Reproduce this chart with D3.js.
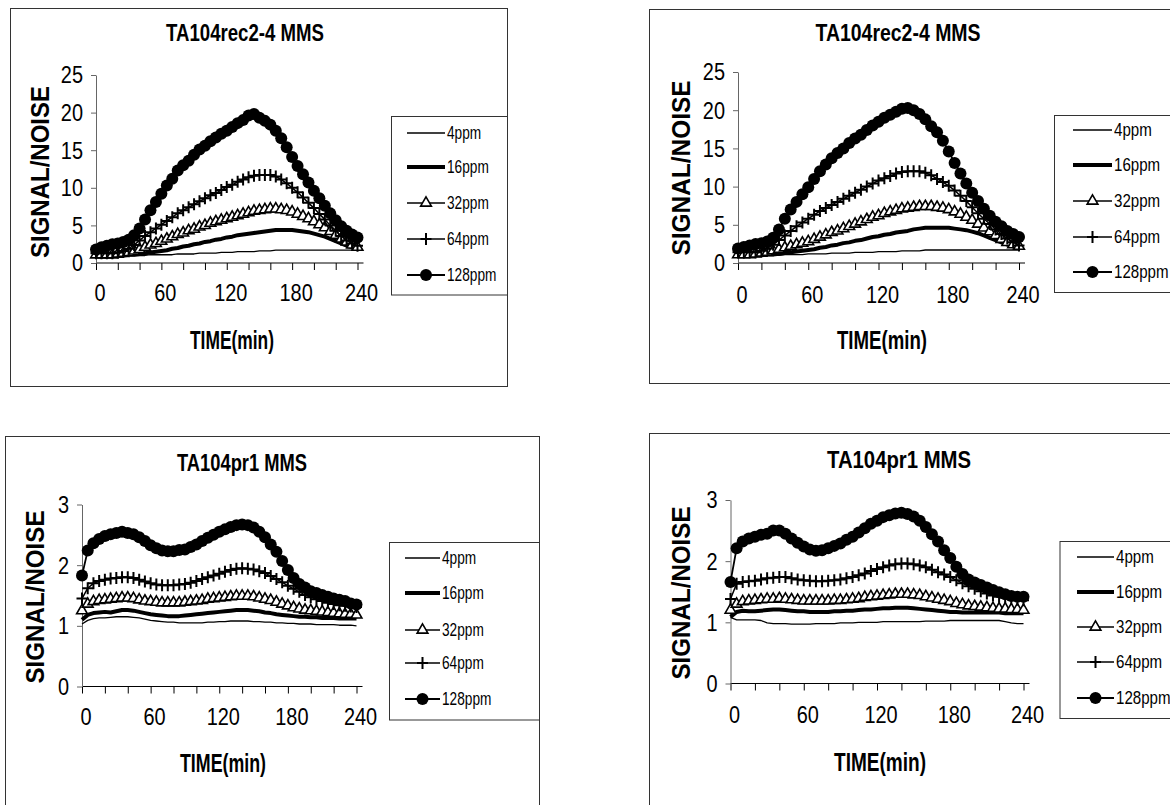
<!DOCTYPE html>
<html>
<head>
<meta charset="utf-8">
<title>TA104 MMS signal/noise</title>
<script src="https://d3js.org/d3.v7.min.js"></script>
<style>
  body { margin: 0; background: #fff; }
  svg { display: block; font-family: "Liberation Sans", Arial, sans-serif; }
</style>
</head>
<body>
<div id="chart"></div>
<script>
// sampling times (min)
const times = [0,5,10,15,20,25,30,35,40,45,50,55,60,65,70,75,80,85,90,95,
  100,105,110,115,120,125,130,135,140,145,150,155,160,165,170,175,180,185,190,195,
  200,205,210,215,220,225,230,235,240];

const seriesNames = ["4ppm", "16ppm", "32ppm", "64ppm", "128ppm"];
const xTickLabels = [0, 60, 120, 180, 240];
const xTickMarks = [0,20,40,60,80,100,120,140,160,180,200,220,240];
const yTicksRec = [0, 5, 10, 15, 20, 25];
const yTicksPr = [0, 1, 2, 3];

// --- TA104rec2-4 MMS (left) ---
const recA_4 = [1.0,1.0,1.0,1.0,1.0,1.0,1.0,1.0,1.0,1.0,
  1.1,1.1,1.1,1.1,1.1,1.2,1.2,1.2,1.2,1.3,
  1.3,1.3,1.3,1.4,1.4,1.4,1.5,1.5,1.5,1.5,
  1.6,1.6,1.6,1.7,1.7,1.7,1.7,1.7,1.7,1.7,
  1.7,1.7,1.7,1.7,1.7,1.7,1.7,1.7,1.7];
const recA_16 = [1.0,1.0,1.0,1.0,1.0,1.0,1.1,1.1,1.2,1.3,
  1.4,1.5,1.6,1.7,1.9,2.0,2.2,2.3,2.5,2.6,
  2.8,2.9,3.1,3.2,3.4,3.5,3.7,3.8,3.9,4.0,
  4.1,4.2,4.3,4.4,4.4,4.4,4.4,4.3,4.2,4.1,
  3.9,3.7,3.5,3.2,2.9,2.6,2.3,2.1,2.0];
const recA_32 = [1.1,1.1,1.1,1.1,1.2,1.3,1.4,1.6,1.8,2.1,
  2.4,2.6,2.9,3.2,3.5,3.8,4.0,4.3,4.5,4.8,
  5.0,5.3,5.5,5.7,5.9,6.1,6.3,6.5,6.7,6.9,
  7.0,7.1,7.2,7.2,7.1,7.0,6.8,6.5,6.2,5.9,
  5.5,5.1,4.7,4.2,3.7,3.2,2.8,2.4,2.1];
const recA_64 = [1.3,1.3,1.3,1.3,1.4,1.6,1.9,2.4,3.0,3.6,
  4.1,4.6,5.1,5.6,6.1,6.6,7.0,7.4,7.8,8.2,
  8.6,9.0,9.3,9.7,10.1,10.4,10.8,11.1,11.4,11.6,
  11.7,11.7,11.7,11.5,11.1,10.6,10.0,9.4,8.7,8.0,
  7.3,6.5,5.8,5.0,4.3,3.6,3.0,2.6,2.3];
const recA_128 = [1.8,2.1,2.3,2.5,2.6,2.8,3.1,3.7,4.6,5.8,
  7.0,8.1,9.2,10.3,11.2,12.3,13.0,13.6,14.4,15.1,
  15.6,16.2,16.7,17.2,17.6,18.1,18.6,19.0,19.6,19.8,
  19.3,18.9,18.4,17.6,16.6,15.4,14.1,12.9,11.8,10.7,
  9.6,8.6,7.6,6.6,5.7,4.9,4.3,3.8,3.4];

// --- TA104rec2-4 MMS (right) ---
const recB_4 = [1.0,1.0,1.0,1.0,1.0,1.0,1.0,1.0,1.1,1.1,
  1.1,1.1,1.2,1.2,1.2,1.2,1.3,1.3,1.3,1.3,
  1.4,1.4,1.4,1.4,1.5,1.5,1.5,1.5,1.6,1.6,
  1.6,1.6,1.7,1.7,1.7,1.7,1.7,1.7,1.7,1.7,
  1.7,1.7,1.7,1.7,1.7,1.7,1.7,1.7,1.7];
const recB_16 = [1.0,1.0,1.0,1.0,1.0,1.1,1.1,1.2,1.3,1.4,
  1.5,1.6,1.7,1.8,2.0,2.1,2.3,2.4,2.6,2.7,
  2.9,3.0,3.2,3.4,3.5,3.7,3.8,4.0,4.1,4.2,
  4.4,4.5,4.6,4.6,4.6,4.6,4.6,4.5,4.4,4.3,
  4.1,3.9,3.6,3.3,3.0,2.7,2.4,2.2,2.0];
const recB_32 = [1.1,1.1,1.1,1.2,1.3,1.4,1.6,1.8,2.0,2.2,
  2.4,2.6,2.8,3.1,3.4,3.7,4.0,4.2,4.5,4.8,
  5.1,5.4,5.7,6.0,6.2,6.5,6.7,6.9,7.1,7.2,
  7.3,7.4,7.4,7.4,7.3,7.2,7.0,6.7,6.4,6.0,
  5.6,5.1,4.6,4.1,3.6,3.1,2.7,2.4,2.2];
const recB_64 = [1.4,1.4,1.4,1.4,1.6,1.9,2.4,3.0,3.6,4.2,
  4.8,5.3,5.8,6.3,6.8,7.2,7.6,8.0,8.4,8.8,
  9.2,9.6,10.0,10.4,10.8,11.1,11.4,11.7,11.9,12.0,
  12.0,12.0,11.8,11.5,11.0,10.6,10.1,9.5,8.8,8.1,
  7.3,6.5,5.8,5.1,4.4,3.8,3.2,2.7,2.3];
const recB_128 = [1.9,2.1,2.3,2.5,2.6,2.8,3.3,4.4,5.8,7.0,
  8.0,9.0,9.9,11.0,12.0,12.9,13.7,14.4,15.0,15.7,
  16.3,16.8,17.4,18.0,18.5,19.0,19.4,19.8,20.2,20.3,
  20.0,19.5,18.8,17.9,17.1,16.0,14.6,13.1,11.7,10.4,
  9.2,8.1,7.1,6.2,5.4,4.8,4.2,3.8,3.4];

// --- TA104pr1 MMS (left) ---
const prA_4 = [1.03,1.09,1.12,1.13,1.13,1.14,1.15,1.15,1.15,1.14,
  1.13,1.11,1.09,1.08,1.07,1.06,1.06,1.05,1.05,1.05,
  1.05,1.05,1.06,1.06,1.07,1.07,1.08,1.08,1.08,1.08,
  1.07,1.07,1.06,1.06,1.05,1.05,1.04,1.04,1.03,1.03,
  1.03,1.02,1.02,1.02,1.02,1.01,1.01,1.01,1.00];
const prA_16 = [1.10,1.18,1.21,1.22,1.23,1.22,1.24,1.26,1.26,1.25,
  1.23,1.21,1.19,1.18,1.17,1.16,1.16,1.16,1.17,1.18,
  1.19,1.20,1.21,1.22,1.23,1.24,1.25,1.26,1.26,1.26,
  1.25,1.24,1.22,1.21,1.19,1.18,1.17,1.16,1.15,1.15,
  1.14,1.14,1.13,1.13,1.13,1.12,1.12,1.12,1.12];
const prA_32 = [1.25,1.36,1.40,1.42,1.43,1.44,1.45,1.46,1.46,1.45,
  1.43,1.41,1.40,1.39,1.38,1.38,1.38,1.38,1.39,1.40,
  1.41,1.42,1.44,1.45,1.46,1.47,1.48,1.49,1.49,1.49,
  1.48,1.46,1.44,1.42,1.39,1.36,1.33,1.30,1.28,1.26,
  1.25,1.24,1.23,1.22,1.21,1.20,1.19,1.19,1.18];
const prA_64 = [1.45,1.62,1.70,1.74,1.76,1.78,1.79,1.80,1.80,1.79,
  1.76,1.73,1.70,1.68,1.67,1.67,1.67,1.68,1.69,1.71,
  1.74,1.77,1.80,1.83,1.86,1.89,1.92,1.94,1.95,1.94,
  1.93,1.90,1.87,1.82,1.77,1.72,1.66,1.61,1.56,1.51,
  1.47,1.44,1.41,1.38,1.36,1.34,1.33,1.32,1.31];
const prA_128 = [1.83,2.24,2.36,2.43,2.48,2.51,2.53,2.55,2.53,2.51,
  2.46,2.40,2.33,2.28,2.24,2.23,2.23,2.25,2.26,2.30,
  2.34,2.40,2.45,2.50,2.55,2.59,2.63,2.66,2.67,2.66,
  2.62,2.55,2.46,2.34,2.22,2.07,1.92,1.79,1.69,1.63,
  1.57,1.54,1.51,1.48,1.45,1.43,1.41,1.37,1.35];

// --- TA104pr1 MMS (right) ---
const prB_4 = [1.08,1.04,1.04,1.04,1.04,1.03,0.99,0.98,0.98,0.98,
  0.97,0.97,0.97,0.97,0.98,0.98,0.98,0.98,0.99,0.99,
  0.99,1.00,1.00,1.00,1.00,1.01,1.01,1.01,1.01,1.01,
  1.01,1.01,1.02,1.02,1.02,1.02,1.03,1.03,1.03,1.03,
  1.03,1.03,1.03,1.03,1.03,1.01,0.99,0.98,0.98];
const prB_16 = [1.09,1.17,1.19,1.18,1.18,1.19,1.20,1.21,1.21,1.20,
  1.19,1.18,1.18,1.17,1.17,1.17,1.17,1.18,1.18,1.19,
  1.19,1.20,1.21,1.21,1.22,1.23,1.23,1.24,1.24,1.24,
  1.23,1.22,1.21,1.20,1.19,1.18,1.17,1.17,1.16,1.16,
  1.16,1.16,1.16,1.16,1.16,1.15,1.15,1.15,1.15];
const prB_32 = [1.20,1.30,1.34,1.35,1.36,1.37,1.38,1.38,1.39,1.38,
  1.37,1.36,1.35,1.35,1.35,1.35,1.35,1.36,1.36,1.37,
  1.38,1.39,1.41,1.42,1.43,1.44,1.45,1.46,1.46,1.46,
  1.45,1.44,1.42,1.40,1.38,1.36,1.34,1.31,1.29,1.27,
  1.26,1.25,1.24,1.23,1.22,1.22,1.21,1.21,1.20];
const prB_64 = [1.38,1.63,1.66,1.67,1.68,1.70,1.72,1.73,1.74,1.74,
  1.72,1.70,1.69,1.68,1.67,1.67,1.68,1.69,1.70,1.72,
  1.74,1.77,1.80,1.84,1.87,1.90,1.93,1.95,1.96,1.96,
  1.95,1.93,1.90,1.86,1.82,1.78,1.74,1.69,1.64,1.59,
  1.55,1.51,1.47,1.44,1.42,1.40,1.38,1.37,1.36];
const prB_128 = [1.66,2.21,2.32,2.37,2.40,2.43,2.45,2.50,2.50,2.45,
  2.37,2.30,2.24,2.19,2.17,2.18,2.21,2.25,2.29,2.35,
  2.40,2.47,2.54,2.61,2.66,2.72,2.75,2.78,2.79,2.77,
  2.73,2.66,2.56,2.44,2.32,2.18,2.05,1.91,1.79,1.70,
  1.65,1.61,1.57,1.53,1.49,1.46,1.43,1.42,1.42];

const W = 1170, H = 805;
const svg = d3.select('#chart').append('svg')
  .attr('width', W).attr('height', H);

// how each series is drawn: line width, marker
const styles = [
  {lw: 1.3, mark: null},
  {lw: 4, mark: null},
  {lw: 1.5, mark: 'tri'},
  {lw: 1.5, mark: 'plus'},
  {lw: 1.8, mark: 'dot'}
];

// panel layouts (pixel positions)
const panels = [
  {title: 'TA104rec2-4 MMS', titleW: 158, series: [recA_4, recA_16, recA_32, recA_64, recA_128],
   box: [10.5, 8.5, 507.5, 386.5], x0: 96, x1: 357.5, y0: 263, y1: 75, ymax: 25, yTicks: yTicksRec,
   titleXY: [245, 33], ylab: [40, 172], ylabLen: 172, xlab: [232, 340], xlabW: 84, xTickY: 293,
   leg: [391.5, 116.5, 507.5, 295], legRows: [133, 167, 203, 239, 275], legLine: [407, 445], legSx: 0.76},
  {title: 'TA104rec2-4 MMS', titleW: 165, series: [recB_4, recB_16, recB_32, recB_64, recB_128],
   box: [649.5, 9.5, 1180, 383.5], x0: 738, x1: 1019, y0: 263, y1: 72, ymax: 25, yTicks: yTicksRec,
   titleXY: [898, 33], ylab: [681, 168], ylabLen: 175, xlab: [882, 340], xlabW: 90, xTickY: 295,
   leg: [1054.5, 115.5, 1180, 292.5], legRows: [130, 165, 201, 237, 272], legLine: [1073, 1112], legSx: 0.84},
  {title: 'TA104pr1  MMS', titleW: 130, series: [prA_4, prA_16, prA_32, prA_64, prA_128],
   box: [5.5, 436.5, 539.5, 815], x0: 82, x1: 356.5, y0: 686.5, y1: 504.5, ymax: 3, yTicks: yTicksPr,
   titleXY: [242, 463], ylab: [35, 597], ylabLen: 173, xlab: [223, 763], xlabW: 86, xTickY: 717,
   leg: [389.5, 542.5, 539.5, 720], legRows: [558, 593, 630, 663, 699], legLine: [405, 440], legSx: 0.76},
  {title: 'TA104pr1  MMS', titleW: 144, series: [prB_4, prB_16, prB_32, prB_64, prB_128],
   box: [649.5, 433.5, 1180, 815], x0: 730.5, x1: 1023.5, y0: 683.5, y1: 500, ymax: 3, yTicks: yTicksPr,
   titleXY: [899, 460], ylab: [681, 593], ylabLen: 173, xlab: [880, 762], xlabW: 92, xTickY: 715,
   leg: [1060, 541.5, 1180, 718.5], legRows: [557, 592, 627, 662, 698], legLine: [1077, 1114], legSx: 0.84}
];

// squeezed text, the scan fonts are narrow
function txt(g, x, y, s, size, sx, anchor, weight) {
  return g.append('text')
    .attr('transform', `translate(${x},${y}) scale(${sx},1)`)
    .attr('text-anchor', anchor)
    .attr('dy', '0.35em')
    .attr('font-size', size)
    .attr('font-weight', weight || 'normal')
    .attr('fill', '#000')
    .text(s);
}

function marker(g, kind, cx, cy) {
  if (kind === 'dot') {
    g.append('circle').attr('cx', cx).attr('cy', cy).attr('r', 6).attr('fill', '#000');
  } else if (kind === 'plus') {
    g.append('path').attr('d', `M${cx-5.5},${cy}H${cx+5.5}M${cx},${cy-6}V${cy+6}`)
      .attr('stroke', '#000').attr('stroke-width', 2).attr('fill', 'none');
  } else if (kind === 'tri') {
    g.append('path').attr('d', d3.symbol(d3.symbolTriangle, 50)())
      .attr('transform', `translate(${cx},${cy})`)
      .attr('fill', '#fff').attr('stroke', '#000').attr('stroke-width', 1.6);
  }
}

panels.forEach(p => {
  const g = svg.append('g');
  const x = d3.scaleLinear().domain([0, 240]).range([p.x0, p.x1]);
  const y = d3.scaleLinear().domain([0, p.ymax]).range([p.y0, p.y1]);

  g.append('rect')
    .attr('x', p.box[0]).attr('y', p.box[1])
    .attr('width', p.box[2] - p.box[0]).attr('height', p.box[3] - p.box[1])
    .attr('fill', 'none').attr('stroke', '#333').attr('stroke-width', 1);

  // title
  g.append('text')
    .attr('x', p.titleXY[0]).attr('y', p.titleXY[1]).attr('dy', '0.35em')
    .attr('text-anchor', 'middle').attr('font-size', 23).attr('font-weight', 'bold')
    .attr('textLength', p.titleW).attr('lengthAdjust', 'spacingAndGlyphs')
    .text(p.title);

  // axes
  const xa = g.append('g').attr('transform', `translate(0,${p.y0})`)
    .call(d3.axisBottom(x).tickValues(xTickMarks).tickSize(7).tickSizeOuter(0).tickFormat(''));
  xa.select('.domain').attr('stroke', '#000').attr('d', `M${p.x0},0H${p.x1 + 6}`);
  xa.selectAll('.tick line').attr('stroke', '#000');

  const ya = g.append('g').attr('transform', `translate(${p.x0},0)`)
    .call(d3.axisLeft(y).tickValues(p.yTicks).tickSize(5).tickSizeOuter(0).tickFormat(''));
  ya.select('.domain').attr('stroke', '#666');
  ya.selectAll('.tick line').attr('stroke', '#666');

  xTickLabels.forEach(v => txt(g, x(v) + 4, p.xTickY, String(v), 24, 0.83, 'middle'));
  p.yTicks.forEach(v => txt(g, p.x0 - 13, y(v), String(v), 24, 0.83, 'end'));

  // axis titles
  g.append('text')
    .attr('transform', `translate(${p.ylab[0]},${p.ylab[1]}) rotate(-90)`)
    .attr('dy', '0.35em').attr('text-anchor', 'middle')
    .attr('font-size', 25).attr('font-weight', 'bold')
    .attr('textLength', p.ylabLen).attr('lengthAdjust', 'spacingAndGlyphs')
    .text('SIGNAL/NOISE');
  g.append('text')
    .attr('x', p.xlab[0]).attr('y', p.xlab[1]).attr('dy', '0.35em')
    .attr('text-anchor', 'middle').attr('font-size', 25).attr('font-weight', 'bold')
    .attr('textLength', p.xlabW).attr('lengthAdjust', 'spacingAndGlyphs')
    .text('TIME(min)');

  // series, 4ppm first so 128ppm ends on top
  const line = d3.line().x((d, i) => x(times[i])).y(d => y(d));
  p.series.forEach((vals, k) => {
    const st = styles[k];
    const sg = g.append('g');
    sg.append('path').datum(vals).attr('d', line)
      .attr('fill', 'none').attr('stroke', '#000').attr('stroke-width', st.lw)
      .attr('stroke-linejoin', 'round');
    if (st.mark) vals.forEach((v, i) => marker(sg, st.mark, x(times[i]), y(v)));
  });

  // legend
  const lg = g.append('g');
  lg.append('rect')
    .attr('x', p.leg[0]).attr('y', p.leg[1])
    .attr('width', p.leg[2] - p.leg[0]).attr('height', p.leg[3] - p.leg[1])
    .attr('fill', '#fff').attr('stroke', '#333');
  seriesNames.forEach((name, k) => {
    const yy = p.legRows[k];
    lg.append('line').attr('x1', p.legLine[0]).attr('x2', p.legLine[1])
      .attr('y1', yy).attr('y2', yy).attr('stroke', '#000').attr('stroke-width', styles[k].lw);
    if (styles[k].mark) marker(lg, styles[k].mark, (p.legLine[0] + p.legLine[1]) / 2, yy);
    txt(lg, p.legLine[1] + 2, yy, name, 18, p.legSx, 'start');
  });
});
</script>
</body>
</html>
